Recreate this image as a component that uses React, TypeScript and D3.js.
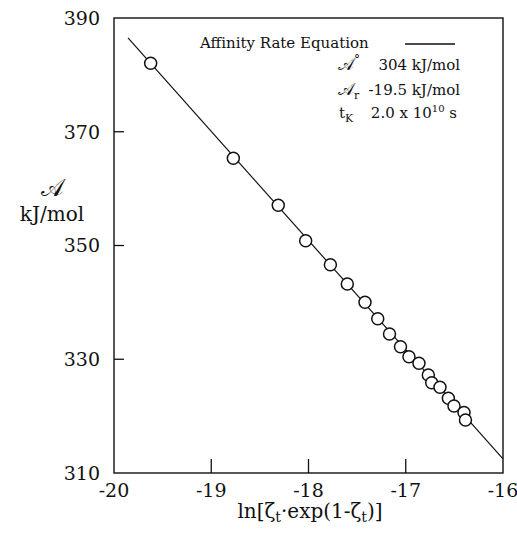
import React from "react";
import * as d3 from "d3";

const xTicks = [-20, -19, -18, -17, -16];
const yTicks = [310, 330, 350, 370, 390];
const innerXTicks = [-19, -18, -17];
const innerYTicks = [330, 350, 370];

const obsX = [-19.623, -18.773, -18.311, -18.029, -17.775, -17.601, -17.419, -17.288, -17.167, -17.054, -16.967, -16.864, -16.768, -16.733, -16.648, -16.562, -16.504, -16.401, -16.386];
const obsY = [382.04, 365.33, 357.07, 350.84, 346.61, 343.23, 340.01, 337.13, 334.44, 332.21, 330.45, 329.29, 327.23, 325.88, 325.07, 323.14, 321.78, 320.64, 319.32];

const fitX = [-19.856, -16];
const fitY = [386.5, 312.5];

const W = 517;
const H = 535;
const serif = "'DejaVu Serif', serif";

export default function App() {
  const x = d3.scaleLinear().domain([-20, -16]).range([114, 503]);
  const y = d3.scaleLinear().domain([310, 390]).range([473, 18]);
  const line = d3.line<number>().x((d, i) => x(fitX[i])).y((d, i) => y(fitY[i]));
  const [x0, x1] = x.range();
  const [y0, y1] = y.range();

  return (
    <svg width={W} height={H} style={{ position: "absolute", left: 0, top: 0, background: "#fff" }}>
      <rect x={x0} y={y1} width={x1 - x0} height={y0 - y1} fill="none" stroke="#111" strokeWidth={1.4} />
      {innerYTicks.map((t) => (
        <line key={"yt" + t} x1={x0} x2={x0 + 10} y1={y(t)} y2={y(t)} stroke="#111" strokeWidth={1.3} />
      ))}
      {innerXTicks.map((t) => (
        <line key={"xt" + t} x1={x(t)} x2={x(t)} y1={y0} y2={y0 - 14} stroke="#111" strokeWidth={1.3} />
      ))}
      {yTicks.map((t) => (
        <text key={"yl" + t} x={x0 - 14} y={y(t)} dy="0.36em" textAnchor="end" fontFamily={serif} fontSize={19} fill="#111">
          {t}
        </text>
      ))}
      {xTicks.map((t) => (
        <text key={"xl" + t} x={x(t)} y={497} textAnchor="middle" fontFamily={serif} fontSize={19} fill="#111">
          {t}
        </text>
      ))}
      <text x={310} y={518} textAnchor="middle" fontFamily={serif} fontSize={20} fill="#111">
        ln[ζ<tspan fontSize={14} dy={4}>t</tspan>
        <tspan dy={-4}>·exp(1-ζ</tspan>
        <tspan fontSize={14} dy={4}>t</tspan>
        <tspan dy={-4}>)]</tspan>
      </text>
      <text x={52} y={196} textAnchor="middle" fontFamily={serif} fontSize={24} fill="#111">𝒜</text>
      <text x={52} y={221} textAnchor="middle" fontFamily={serif} fontSize={20} fill="#111">kJ/mol</text>

      <path d={line(fitX) || ""} fill="none" stroke="#111" strokeWidth={1.2} />
      {obsX.map((v, i) => (
        <circle key={"p" + i} cx={x(v)} cy={y(obsY[i])} r={6} fill="#fff" stroke="#111" strokeWidth={1.5} />
      ))}

      <text x={200} y={48} fontFamily={serif} fontSize={15} fill="#111">Affinity Rate Equation</text>
      <line x1={405} x2={455} y1={44} y2={44} stroke="#111" strokeWidth={1.3} />
      <text x={338} y={70} fontFamily={serif} fontSize={17} fill="#111">𝒜<tspan fontSize={12} dy={-6}>°</tspan></text>
      <text x={460} y={70} textAnchor="end" fontFamily={serif} fontSize={15} fill="#111">304 kJ/mol</text>
      <text x={338} y={95} fontFamily={serif} fontSize={17} fill="#111">𝒜<tspan fontSize={11} dy={4}>r</tspan></text>
      <text x={460} y={95} textAnchor="end" fontFamily={serif} fontSize={15} fill="#111">-19.5 kJ/mol</text>
      <text x={339} y={118} fontFamily={serif} fontSize={15} fill="#111">t<tspan fontSize={11} dy={4}>K</tspan></text>
      <text x={457} y={118} textAnchor="end" fontFamily={serif} fontSize={15} fill="#111">2.0 x 10<tspan fontSize={10} dy={-6}>10</tspan><tspan dy={6}> s</tspan></text>
    </svg>
  );
}
